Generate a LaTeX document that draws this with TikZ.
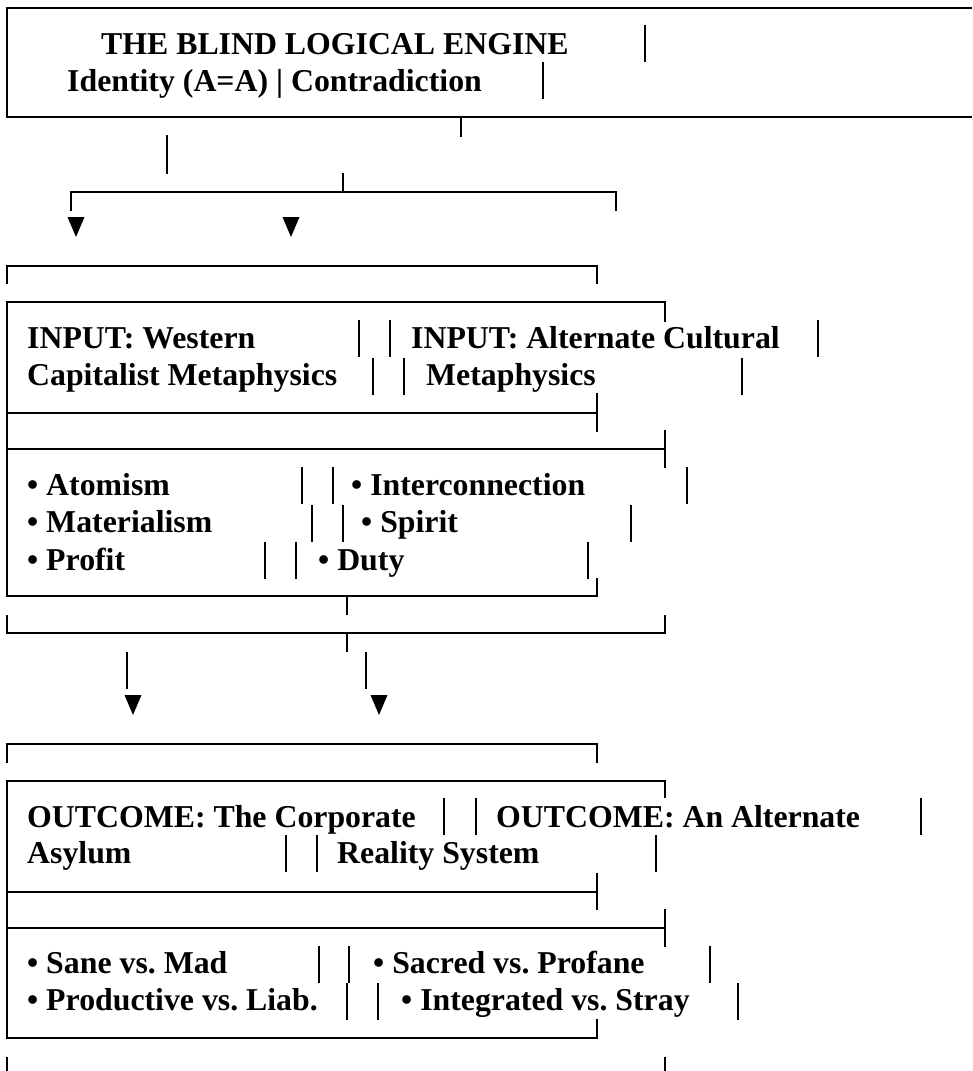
\documentclass[tikz,border=0pt]{standalone}
\usepackage{fontspec}
\setmainfont{Liberation Serif}
\frenchspacing

\begin{document}
\begin{tikzpicture}[x=1pt, y=-1pt,
  rule/.style={line width=2.4pt},
  lbl/.style={anchor=base west, inner sep=0pt, font=\bfseries\fontsize{31.8}{37}\selectfont}]

%─────────────
% Controls
%─────────────
\def\rowh{37}  % height of one text row (one box bar)
\def\tipw{8.5} % half width of a pointer tip
\def\tiph{20}  % height of a pointer tip

\useasboundingbox (0,0) rectangle (972,1071);

%─────────────────────────────────────────────────────────────
% Row of box bars: y of the row top, then the x positions
%─────────────────────────────────────────────────────────────
\newcommand{\drawBars}[2]{%
  \foreach \bx in {#2} {
    \draw[rule] (\bx,#1) -- ++(0,\rowh);
  }
}

%─────────────
% Pointer tip (filled down triangle)
%─────────────
\newcommand{\drawTip}[2]{%
  \fill ({#1-\tipw},{#2}) -- ({#1+\tipw},{#2}) -- ({#1},{#2+\tiph}) -- cycle;
}

%─────────────
% Engine box
%─────────────
\draw[rule] (972,8) -- (7,8) -- (7,117) -- (972,117);
\node[lbl] (engine) at (101,54) {THE BLIND LOGICAL ENGINE};
\node[lbl] (laws) at (67,91) {Identity (A=A) | Contradiction};
\drawBars{25}{645}
\drawBars{62}{543}

% stray stems and the split
\draw[rule] (461,117) -- (461,137);
\draw[rule] (167,135) -- (167,174);
\draw[rule] (343,173) -- (343,192);
\draw[rule] (71,211) -- (71,192) -- (616,192) -- (616,211);
\drawTip{76}{217}
\drawTip{291}{217}

%─────────────
% Input boxes
%─────────────
\draw[rule] (7,284) -- (7,266) -- (597,266) -- (597,284);
\draw[rule] (665,322) -- (665,302) -- (7,302) -- (7,596) -- (597,596) -- (597,578);
\draw[rule] (7,413) -- (597,413);
\draw[rule] (597,393) -- (597,432);
\draw[rule] (7,449) -- (665,449);
\draw[rule] (665,430) -- (665,468);

\node[lbl] (westA) at (27,348) {INPUT: Western};
\node[lbl] (altA)  at (411,348) {INPUT: Alternate Cultural};
\node[lbl] (westB) at (27,385) {Capitalist Metaphysics};
\node[lbl] (altB)  at (426,385) {Metaphysics};
\drawBars{320}{359,390,818}
\drawBars{358}{373,404,742}

\node[lbl] (atom)  at (27,495) {• Atomism};
\node[lbl] (inter) at (351,495) {• Interconnection};
\node[lbl] (mat)   at (27,532) {• Materialism};
\node[lbl] (spir)  at (361,532) {• Spirit};
\node[lbl] (prof)  at (27,570) {• Profit};
\node[lbl] (duty)  at (318,570) {• Duty};
\drawBars{467}{302,333,687}
\drawBars{505}{312,343,631}
\drawBars{542}{265,296,588}

% joint below the inputs
\draw[rule] (347,596) -- (347,615);
\draw[rule] (7,615) -- (7,633) -- (665,633) -- (665,615);
\draw[rule] (347,633) -- (347,652);
\draw[rule] (127,652) -- (127,689);
\draw[rule] (366,652) -- (366,689);
\drawTip{133}{695}
\drawTip{379}{695}

%─────────────
% Outcome boxes
%─────────────
\draw[rule] (7,763) -- (7,744) -- (597,744) -- (597,763);
\draw[rule] (665,798) -- (665,781) -- (7,781) -- (7,1038) -- (597,1038) -- (597,1019);
\draw[rule] (7,892) -- (597,892);
\draw[rule] (597,873) -- (597,910);
\draw[rule] (7,928) -- (665,928);
\draw[rule] (665,909) -- (665,947);

\node[lbl] (corpA) at (27,827) {OUTCOME: The Corporate};
\node[lbl] (realA) at (496,827) {OUTCOME: An Alternate};
\node[lbl] (corpB) at (27,863) {Asylum};
\node[lbl] (realB) at (337,863) {Reality System};
\drawBars{798}{444,476,921}
\drawBars{835}{286,317,656}

\node[lbl] (sane)  at (27,973) {• Sane vs. Mad};
\node[lbl] (sacr)  at (373,973) {• Sacred vs. Profane};
\node[lbl] (prod)  at (27,1010) {• Productive vs. Liab.};
\node[lbl] (integ) at (401,1010) {• Integrated vs. Stray};
\drawBars{946}{319,349,710}
\drawBars{983}{347,378,738}

% loose ends at the bottom
\draw[rule] (7,1057) -- (7,1071);
\draw[rule] (665,1057) -- (665,1071);
\end{tikzpicture}
\end{document}
